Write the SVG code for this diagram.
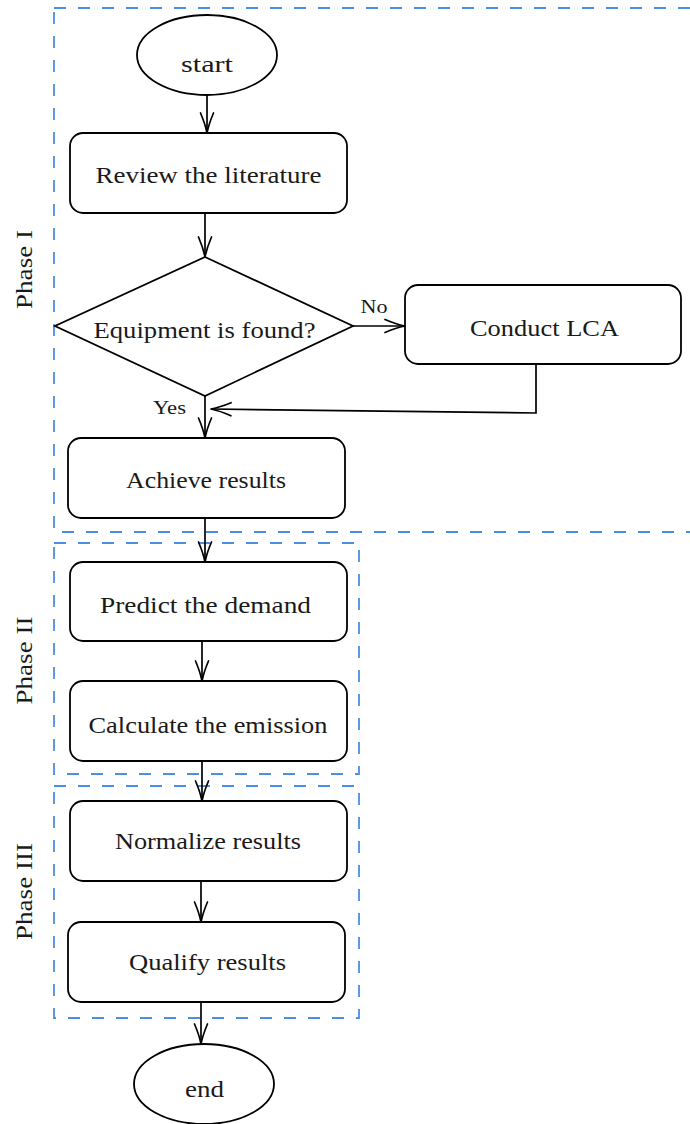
<svg xmlns="http://www.w3.org/2000/svg" width="690" height="1124" viewBox="0 0 690 1124">
<style>
.phase{fill:none;stroke:#4a8fe0;stroke-width:1.8;stroke-dasharray:12 12}
.node{fill:#fff;stroke:#000;stroke-width:1.8}
.t{font-family:"Liberation Serif","Times New Roman",serif;font-size:23px;fill:#1a1a1a;text-anchor:middle}
.s{font-family:"Liberation Serif","Times New Roman",serif;font-size:19px;fill:#1a1a1a;text-anchor:middle}
.c{fill:none;stroke:#000;stroke-width:1.7;marker-end:url(#arr)}
</style>
<defs>
<marker id="arr" markerUnits="userSpaceOnUse" viewBox="-22 -9 24 18" markerWidth="24" markerHeight="18" refX="0" refY="0" orient="auto">
<path d="M-20,-6.5 Q-9,-1.8 0,0 Q-9,1.8 -20,6.5" fill="none" stroke="#000" stroke-width="1.7" stroke-linecap="round" stroke-linejoin="round"/>
</marker>
</defs>
<rect width="690" height="1124" fill="#fff"/>
<g id="phases">
<rect class="phase" x="54" y="8" width="660" height="524"/>
<rect class="phase" x="54" y="543" width="305" height="231"/>
<rect class="phase" x="54" y="786" width="305" height="232"/>
<text class="t" transform="translate(32,269.5) rotate(-90)" textLength="79" lengthAdjust="spacingAndGlyphs">Phase I</text>
<text class="t" transform="translate(32,660.5) rotate(-90)" textLength="88" lengthAdjust="spacingAndGlyphs">Phase II</text>
<text class="t" transform="translate(32,891.5) rotate(-90)" textLength="97" lengthAdjust="spacingAndGlyphs">Phase III</text>
</g>
<g id="connectors">
<path class="c" d="M207,95 L207,133"/>
<path class="c" d="M205,213 L205,257"/>
<path class="c" d="M353,326 L405,326"/>
<path class="c" d="M536,364 L536,413 L211,409"/>
<path class="c" d="M205,396 L205,438"/>
<path class="c" d="M205,518 L205,562"/>
<path class="c" d="M202,641 L202,681"/>
<path class="c" d="M202,761 L202,801"/>
<path class="c" d="M201,881 L201,922"/>
<path class="c" d="M201,1002 L201,1044"/>
<text class="s" x="374" y="313" textLength="27" lengthAdjust="spacingAndGlyphs">No</text>
<text class="s" x="169.5" y="414" textLength="33" lengthAdjust="spacingAndGlyphs">Yes</text>
</g>
<g id="start">
<ellipse class="node" cx="207" cy="55" rx="70" ry="40"/>
<text class="t" x="207" y="72" textLength="52" lengthAdjust="spacingAndGlyphs">start</text>
</g>
<g id="review">
<rect class="node" x="70" y="133" width="277" height="80" rx="13"/>
<text class="t" x="208.5" y="183" textLength="226" lengthAdjust="spacingAndGlyphs">Review the literature</text>
</g>
<g id="decision">
<path class="node" d="M205,257 L353,326 L205,396 L55,326 Z" stroke-linejoin="miter"/>
<text class="t" x="204.5" y="338" textLength="222" lengthAdjust="spacingAndGlyphs">Equipment is found?</text>
</g>
<g id="lca">
<rect class="node" x="405" y="285" width="276" height="79" rx="13"/>
<text class="t" x="544.5" y="336" textLength="149" lengthAdjust="spacingAndGlyphs">Conduct LCA</text>
</g>
<g id="achieve">
<rect class="node" x="68" y="438" width="277" height="80" rx="13"/>
<text class="t" x="206" y="488" textLength="160" lengthAdjust="spacingAndGlyphs">Achieve results</text>
</g>
<g id="predict">
<rect class="node" x="70" y="562" width="277" height="79" rx="13"/>
<text class="t" x="205.5" y="613" textLength="211" lengthAdjust="spacingAndGlyphs">Predict the demand</text>
</g>
<g id="calculate">
<rect class="node" x="70" y="681" width="277" height="80" rx="13"/>
<text class="t" x="208" y="733" textLength="239" lengthAdjust="spacingAndGlyphs">Calculate the emission</text>
</g>
<g id="normalize">
<rect class="node" x="70" y="801" width="277" height="80" rx="13"/>
<text class="t" x="208" y="849" textLength="186" lengthAdjust="spacingAndGlyphs">Normalize results</text>
</g>
<g id="qualify">
<rect class="node" x="68" y="922" width="277" height="80" rx="13"/>
<text class="t" x="207.5" y="970" textLength="157" lengthAdjust="spacingAndGlyphs">Qualify results</text>
</g>
<g id="end">
<ellipse class="node" cx="204" cy="1084" rx="70" ry="40"/>
<text class="t" x="204.5" y="1097" textLength="39" lengthAdjust="spacingAndGlyphs">end</text>
</g>
</svg>
